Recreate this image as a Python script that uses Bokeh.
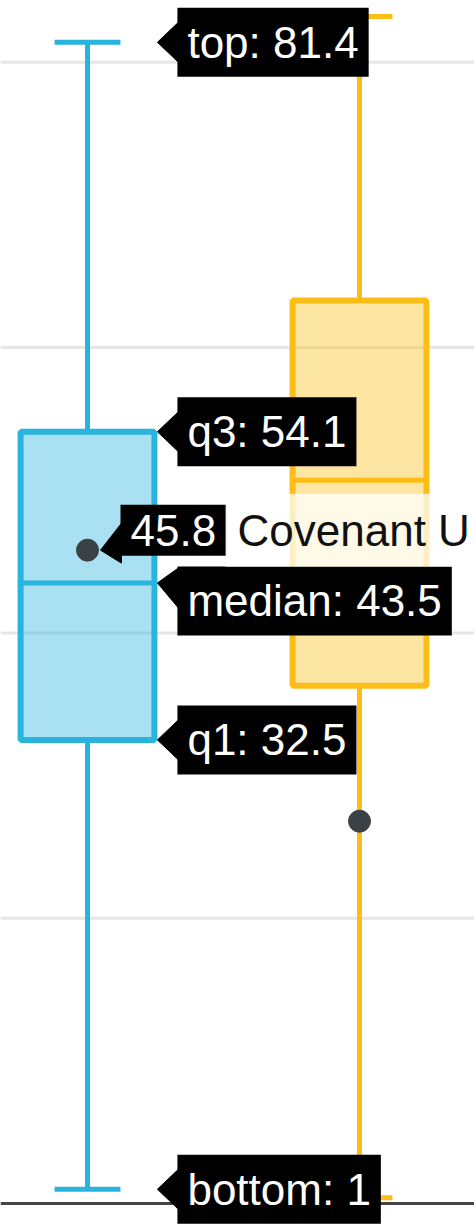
from bokeh.plotting import figure
from bokeh.models import Label, Range1d, Span, ColumnDataSource
from bokeh.embed import file_html
from bokeh.resources import INLINE

# ---- data ----
groups = ["Covenant University", "Comparison group"]
upper = [81.4, 83.2]
q3 = [54.1, 63.3]
median = [43.5, 50.7]
q1 = [32.5, 36.3]
lower = [1.0, 0.4]
mean = [45.8, 26.8]
grid_values = [20, 40, 60, 80]

line_colors = ["#29b4de", "#fbbd16"]
mean_color = "#3a4246"

# ---- geometry ----
W, H = 474, 1225
X_RANGE = (-0.3199, 1.4228)
Y_RANGE = (-1.542, 84.33)
PX_X = W / (X_RANGE[1] - X_RANGE[0])
PX_Y = H / (Y_RANGE[1] - Y_RANGE[0])
BOX_HALF = 0.246
CAP_HALF = 0.121
FONT = "Liberation Sans"
FS = "44px"

p = figure(width=W, height=H, x_range=Range1d(*X_RANGE), y_range=Range1d(*Y_RANGE),
           x_axis_location=None, y_axis_location=None, output_backend="svg",
           toolbar_location=None, min_border=0, outline_line_color=None,
           background_fill_color="white", border_fill_color="white")
p.grid.visible = False

for g in grid_values:
    p.add_layout(Span(location=g, dimension="width", line_color="#e6e6e6",
                      line_width=3, level="underlay"))
p.add_layout(Span(location=0, dimension="width", line_color="#444444",
                  line_width=3, level="underlay"))

xs = list(range(len(groups)))
src = ColumnDataSource(dict(
    x=xs, left=[x - BOX_HALF for x in xs], right=[x + BOX_HALF for x in xs],
    cl=[x - CAP_HALF for x in xs], cr=[x + CAP_HALF for x in xs],
    upper=upper, q3=q3, median=median, q1=q1, lower=lower, mean=mean,
    color=line_colors))

p.segment(x0="x", y0="q3", x1="x", y1="upper", source=src, line_color="color", line_width=5)
p.segment(x0="x", y0="q1", x1="x", y1="lower", source=src, line_color="color", line_width=5)
p.segment(x0="cl", y0="upper", x1="cr", y1="upper", source=src, line_color="color", line_width=5)
p.segment(x0="cl", y0="lower", x1="cr", y1="lower", source=src, line_color="color", line_width=5)
p.quad(left="left", right="right", top="q3", bottom="q1", source=src,
       fill_color="color", fill_alpha=0.4, line_color="color", line_width=6)
p.segment(x0="left", y0="median", x1="right", y1="median", source=src,
          line_color="color", line_width=5)
p.scatter(x="x", y="mean", source=src, size=22, fill_color=mean_color, line_color=mean_color)

# ---- hover-style labels for the first group ----
i = 0
anchor_px = BOX_HALF * PX_X + 3
labels = [
    (f"top: {upper[i]:g}", upper[i], anchor_px, 0),
    (f"q3: {q3[i]:g}", q3[i], anchor_px, 0),
    (f"median: {median[i]:g}", median[i], anchor_px, 18),
    (f"q1: {q1[i]:g}", q1[i], anchor_px, 0),
    (f"bottom: {lower[i]:g}", lower[i], anchor_px, 0),
    (f"{mean[i]:g}", mean[i], 13, -20),
]
ARROW = 20
BOX_HALF_H = 33
axs, ays = [], []
for text, val, ax_px, shift_px in labels:
    x0 = xs[i]
    bc = min(max(0, shift_px - BOX_HALF_H + ARROW), shift_px + BOX_HALF_H - ARROW)
    px_pts = [(ax_px, 0), (ax_px + ARROW + 1, bc - ARROW), (ax_px + ARROW + 1, bc + ARROW)]
    axs.append([x0 + a / PX_X for a, b in px_pts])
    ays.append([val - b / PX_Y for a, b in px_pts])
    p.add_layout(Label(x=x0 + (ax_px + ARROW) / PX_X, y=val - shift_px / PX_Y,
                       text=text, text_font=FONT, text_font_size=FS, text_color="white",
                       text_align="left", text_baseline="middle",
                       background_fill_color="black", background_fill_alpha=1.0,
                       padding=10))
p.patches(xs=axs, ys=ays, fill_color="black", line_color="black", line_width=1)

# trace name next to the mean label (shown truncated, as in the original hover)
p.add_layout(Label(x=xs[i] + 138 / PX_X, y=mean[i] + 20 / PX_Y, text=groups[i][:10],
                   text_font=FONT, text_font_size=FS, text_color="#111111",
                   text_align="left", text_baseline="middle",
                   background_fill_color="white", background_fill_alpha=0.75,
                   padding=12, level="overlay"))

open("out.html", "w").write(file_html(p, INLINE))
